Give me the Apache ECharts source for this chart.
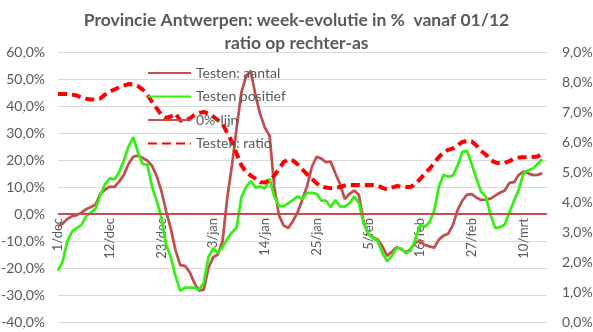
<!DOCTYPE html>
<html>
<head>
<meta charset="utf-8">
<script src="https://cdn.jsdelivr.net/npm/echarts@6/dist/echarts.min.js"></script>
<style>
html,body{margin:0;padding:0;background:#fff;}
#chart{width:593px;height:332px;}
</style>
</head>
<body>
<div id="chart"></div>
<script>
// categories: daily dates 1/dec .. 15/mrt
const months = [["dec", 31], ["jan", 31], ["feb", 28], ["mrt", 15]];
const categories = [];
months.forEach(([m, n]) => { for (let d = 1; d <= n; d++) categories.push(d + "/" + m); });

// Testen: aantal (week-evolutie %, left axis)
const testenAantal = [
  -4.5, -3.5, -1.8, -0.8, -0.4, 0.5, 1.8, 2.6, 3.5, 7.5,
  9.0, 10.1, 10.0, 12.0, 14.5, 18.5, 21.2, 21.6, 20.8, 19.8,
  17.8, 14.0, 8.5, 1.0, -5.5, -13.5, -18.9, -19.2, -21.5, -25.5,
  -28.4, -28.0, -20.0, -16.0, -15.0, -10.0, 6.0, 18.0, 32.0, 45.0,
  51.0, 53.0, 44.0, 37.0, 32.0, 29.0, 10.0, -0.5, -4.3, -5.2,
  -2.5, 0.8, 5.5, 10.5, 17.5, 21.2, 20.5, 19.2, 19.4, 15.0,
  11.0, 5.5, 7.5, 8.7, 7.0, -3.0, -7.5, -8.7, -9.5, -12.0,
  -15.5, -14.0, -12.3, -13.0, -14.2, -13.0, -10.5, -10.0, -11.5, -12.0,
  -12.5, -9.5, -8.0, -7.3, -4.0, 1.5, 5.0, 7.2, 7.4, 6.0,
  5.2, 5.3, 5.7, 6.8, 7.9, 8.7, 11.5, 11.8, 14.5, 15.7,
  15.1, 14.4, 14.5, 15.1
];

// Testen positief (week-evolutie %, left axis)
const testenPositief = [
  -21.0, -17.5, -10.0, -6.5, -5.2, -4.0, -0.8, 0.5, 2.0, 7.0,
  11.0, 13.2, 12.8, 15.5, 19.8, 25.0, 28.5, 22.8, 18.5, 18.3,
  10.0, 5.0, -1.5, -11.5, -16.0, -23.0, -28.5, -27.3, -27.3, -27.3,
  -28.0, -25.5, -16.0, -12.7, -14.5, -12.2, -9.2, -6.8, -5.0, 6.2,
  10.0, 12.2, 9.8, 10.2, 9.5, 13.0, 6.5, 3.0, 2.8, 4.0,
  5.2, 6.5, 5.5, 7.8, 7.8, 7.5, 5.0, 5.0, 2.5, 5.2,
  2.8, 2.7, 4.0, 6.5, 4.0, -3.5, -7.3, -9.0, -10.0, -14.5,
  -17.5, -15.5, -12.5, -12.8, -14.5, -13.5, -9.5, -4.0, -4.8, -3.0,
  1.0, 10.0, 14.5, 13.8, 14.2, 18.0, 23.0, 23.4, 18.5, 13.0,
  8.2, 6.5, -0.5, -5.2, -4.9, -4.0, 0.5, 5.0, 9.0, 15.0,
  16.2, 16.8, 18.5, 20.3
];

// Testen: ratio (%, right axis)
const testenRatio = [
  7.60, 7.60, 7.60, 7.58, 7.55, 7.48, 7.44, 7.42, 7.42, 7.45,
  7.58, 7.68, 7.75, 7.82, 7.88, 7.93, 7.92, 7.86, 7.75, 7.58,
  7.34, 7.12, 6.90, 6.80, 6.85, 6.95, 6.72, 6.70, 6.78, 6.90,
  6.97, 7.00, 6.95, 6.85, 6.73, 6.60, 6.30, 6.00, 5.60, 5.22,
  5.00, 4.88, 4.78, 4.66, 4.65, 4.72, 4.88, 5.10, 5.33, 5.42,
  5.38, 5.25, 5.08, 4.92, 4.78, 4.62, 4.52, 4.48, 4.46, 4.47,
  4.50, 4.55, 4.57, 4.57, 4.57, 4.57, 4.57, 4.57, 4.55, 4.47,
  4.42, 4.48, 4.53, 4.51, 4.50, 4.50, 4.60, 4.76, 4.95, 5.10,
  5.30, 5.50, 5.65, 5.74, 5.79, 5.90, 6.00, 6.04, 6.02, 5.88,
  5.70, 5.58, 5.40, 5.32, 5.28, 5.30, 5.36, 5.45, 5.48, 5.49,
  5.49, 5.50, 5.52, 5.60
];

// 0%-lijn: constant zero line over all dates
const nulLijn = categories.map(() => 0);

const titleText = "Provincie Antwerpen: week-evolutie in %  vanaf 01/12\nratio op rechter-as";
const seriesNames = ["Testen: aantal", "Testen positief", "0%-lijn", "Testen: ratio"];

const FONT = "Lato";
const GREY = "#595959";
const pct = v => v.toFixed(1).replace(".", ",") + "%";

const chart = echarts.init(document.getElementById("chart"), null, { renderer: "canvas" });
chart.setOption({
  animation: false,
  backgroundColor: "#fff",
  title: {
    text: titleText,
    left: "center",
    top: 4,
    textStyle: { fontFamily: FONT, fontSize: 17.5, fontWeight: "bold", color: GREY, lineHeight: 23 }
  },
  legend: {
    orient: "vertical",
    left: 142,
    top: 61,
    itemWidth: 43,
    itemHeight: 14,
    itemGap: 9.5,
    data: seriesNames,
    itemStyle: { color: "rgba(0,0,0,0)", borderWidth: 0, opacity: 0 },
    textStyle: { fontFamily: FONT, fontSize: 14, color: GREY }
  },
  grid: { left: 58, right: 46, top: 52, bottom: 10, containLabel: false, outerBoundsMode: "none" },
  xAxis: {
    type: "category",
    data: categories,
    boundaryGap: false,
    axisLine: { show: false, onZero: false },
    axisTick: { show: false },
    axisLabel: { interval: 10, rotate: 90, margin: -104, fontFamily: FONT, fontSize: 13, color: GREY, hideOverlap: false },
    splitLine: { show: false }
  },
  yAxis: [
    {
      type: "value", min: -40, max: 60, interval: 10,
      axisLine: { show: false }, axisTick: { show: false },
      axisLabel: { formatter: pct, fontFamily: FONT, fontSize: 14, color: GREY, margin: 13 },
      splitLine: { lineStyle: { color: "#d9d9d9", width: 1 } }
    },
    {
      type: "value", min: 0, max: 9, interval: 1,
      axisLine: { show: false }, axisTick: { show: false },
      axisLabel: { formatter: pct, fontFamily: FONT, fontSize: 14, color: GREY, margin: 15 },
      splitLine: { show: false }
    }
  ],
  series: [
    {
      name: seriesNames[0], type: "line", data: testenAantal, yAxisIndex: 0,
      showSymbol: false, symbol: "none",
      lineStyle: { color: "#c0504d", width: 2.75 }, itemStyle: { color: "#c0504d" }
    },
    {
      name: seriesNames[1], type: "line", data: testenPositief, yAxisIndex: 0,
      showSymbol: false, symbol: "none",
      lineStyle: { color: "#33f011", width: 2.75 }, itemStyle: { color: "#33f011" }
    },
    {
      name: seriesNames[2], type: "line", data: nulLijn, yAxisIndex: 0,
      showSymbol: false, symbol: "none",
      lineStyle: { color: "#c0504d", width: 2 }, itemStyle: { color: "#c0504d" }
    },
    {
      name: seriesNames[3], type: "line", data: testenRatio, yAxisIndex: 1,
      showSymbol: false, symbol: "none",
      lineStyle: { color: "#ff0000", width: 4, type: [9, 5] }, itemStyle: { color: "#ff0000" }
    }
  ]
});
</script>
</body>
</html>
